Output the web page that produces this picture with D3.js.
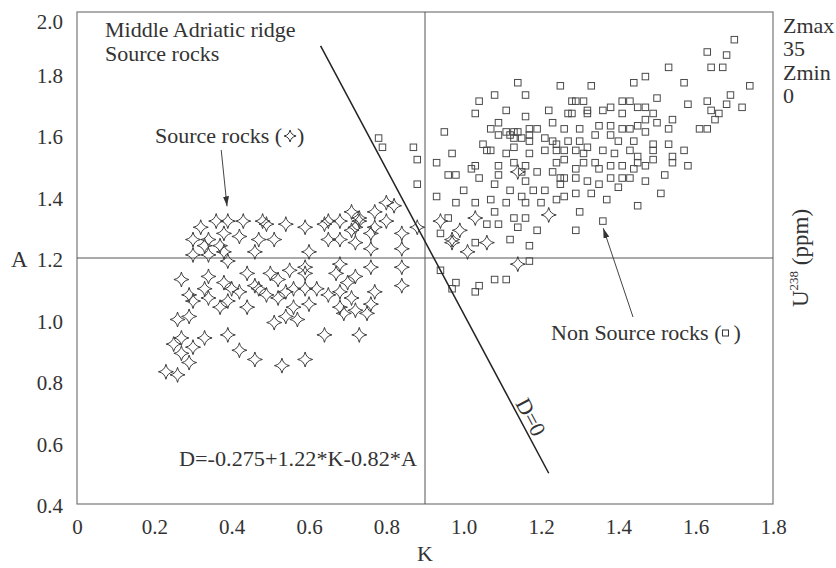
<!DOCTYPE html>
<html>
<head>
<meta charset="utf-8">
<script src="https://cdn.jsdelivr.net/npm/d3@7"></script>
<style>
  html, body { margin: 0; padding: 0; background: #fff; }
</style>
</head>
<body>
<svg id="chart" width="836" height="568"></svg>
<script>
// Axis ticks
const kTicks = [0, 0.2, 0.4, 0.6, 0.8, 1.0, 1.2, 1.4, 1.6, 1.8];
const aTicks = [0.4, 0.6, 0.8, 1.0, 1.2, 1.4, 1.6, 1.8, 2.0];

// Source rocks (star markers): K and A values
const srcK = [0.80,0.82,0.71,0.73,0.77,0.32,0.36,0.39,0.43,0.48,0.49,0.54,0.59,0.64,0.65,0.68,0.80,0.88,
  0.30,0.34,0.38,0.42,0.47,0.51,0.65,0.68,0.71,0.72,0.73,0.76,0.77,0.84,0.33,0.37,0.46,0.60,0.72,0.76,0.84,
  0.30,0.34,0.39,0.38,0.27,0.34,0.38,0.44,0.50,0.52,0.55,0.59,0.59,0.67,0.68,0.72,0.70,0.76,0.84,0.84,
  0.29,0.33,0.34,0.40,0.42,0.46,0.47,0.49,0.52,0.54,0.56,0.59,0.62,0.65,0.68,0.71,0.77,
  0.30,0.37,0.39,0.44,0.56,0.60,0.68,0.69,0.72,0.76,0.75,0.26,0.29,0.51,0.54,0.57,
  0.33,0.39,0.64,0.73,0.25,0.27,0.30,0.27,0.42,0.29,0.46,0.59,0.53,0.23,0.26,
  0.94,1.03,0.97,0.99,0.97,1.06,1.01,1.14,1.22,1.14];
const srcA = [1.38,1.37,1.35,1.33,1.35,1.30,1.32,1.32,1.32,1.32,1.31,1.31,1.30,1.31,1.32,1.32,1.32,1.30,
  1.26,1.26,1.28,1.27,1.26,1.26,1.26,1.26,1.29,1.30,1.32,1.28,1.30,1.28,1.24,1.24,1.22,1.22,1.25,1.23,1.23,
  1.21,1.21,1.19,1.22,1.13,1.14,1.12,1.15,1.15,1.13,1.16,1.17,1.15,1.15,1.18,1.14,1.12,1.17,1.17,1.11,
  1.08,1.10,1.07,1.10,1.09,1.11,1.10,1.08,1.07,1.09,1.10,1.10,1.10,1.08,1.09,1.07,1.09,
  1.06,1.04,1.06,1.04,1.04,1.05,1.04,1.02,1.03,1.05,1.02,1.00,1.01,0.99,1.01,1.00,
  0.94,0.95,0.95,0.95,0.92,0.94,0.91,0.89,0.90,0.86,0.87,0.87,0.85,0.83,0.82,
  1.32,1.33,1.26,1.29,1.25,1.25,1.22,1.18,1.34,1.48];

// Non source rocks (square markers): K and A values
const nonK = [1.14,1.25,1.33,1.44,1.57,1.74,
  1.08,1.16,1.04,1.28,1.29,1.31,1.41,1.43,1.45,1.47,1.50,1.58,1.63,1.68,1.69,1.72,
  1.03,1.11,1.16,1.22,1.27,1.28,1.32,1.32,1.36,1.38,1.41,1.49,1.64,1.66,
  0.95,1.07,1.09,1.11,1.13,1.14,1.17,1.19,1.23,1.26,1.30,1.35,1.38,1.41,1.43,1.45,1.47,1.50,1.54,1.53,1.65,1.61,1.63,
  1.05,1.09,1.12,1.13,1.17,1.15,1.17,1.21,1.23,1.24,1.27,1.30,1.34,1.38,1.40,1.44,1.47,1.49,1.53,1.57,
  0.87,0.97,1.06,1.07,1.11,1.13,1.17,1.21,1.24,1.26,1.29,1.31,1.32,1.36,1.39,1.43,1.45,1.49,1.54,
  0.88,0.93,1.02,1.03,1.09,1.13,1.16,1.19,1.24,1.26,1.29,1.31,1.34,1.35,1.38,1.41,1.45,1.44,1.47,1.49,1.54,1.58,
  0.96,0.98,1.04,1.09,1.15,1.16,1.23,1.25,1.29,1.26,1.32,1.38,1.41,1.43,1.47,1.52,
  0.88,1.00,1.08,1.12,1.18,1.21,1.25,1.29,1.33,1.35,1.40,
  0.93,0.98,1.03,1.07,1.11,1.15,1.16,1.20,1.24,1.26,1.37,1.51,1.45,
  0.96,1.06,1.08,1.13,1.16,1.30,1.36,
  0.94,1.09,1.14,1.19,1.29,
  1.03,1.12,1.17,1.17,
  0.94,1.08,1.11,0.98,1.04,0.97,1.03,
  1.70,1.63,1.68,1.64,1.67,1.53,1.47,
  0.78,0.79];
const nonA = [1.77,1.76,1.76,1.77,1.77,1.76,
  1.73,1.73,1.71,1.71,1.71,1.71,1.71,1.71,1.69,1.69,1.72,1.70,1.71,1.70,1.73,1.69,
  1.67,1.68,1.66,1.68,1.67,1.67,1.68,1.67,1.68,1.69,1.67,1.67,1.68,1.67,
  1.61,1.62,1.64,1.61,1.61,1.61,1.62,1.62,1.64,1.62,1.62,1.63,1.63,1.62,1.62,1.63,1.65,1.64,1.65,1.62,1.65,1.62,1.62,
  1.57,1.60,1.60,1.59,1.60,1.59,1.58,1.59,1.58,1.57,1.58,1.58,1.60,1.60,1.58,1.58,1.61,1.57,1.57,1.55,
  1.56,1.54,1.55,1.55,1.54,1.56,1.54,1.55,1.55,1.55,1.55,1.54,1.56,1.55,1.54,1.55,1.53,1.55,1.53,
  1.52,1.51,1.49,1.50,1.50,1.51,1.50,1.48,1.51,1.52,1.49,1.51,1.51,1.49,1.50,1.50,1.51,1.49,1.50,1.52,1.51,1.50,
  1.47,1.47,1.46,1.47,1.48,1.45,1.48,1.46,1.46,1.46,1.45,1.46,1.46,1.46,1.45,1.47,
  1.44,1.42,1.44,1.42,1.42,1.42,1.44,1.41,1.41,1.44,1.43,
  1.40,1.38,1.38,1.39,1.38,1.40,1.38,1.38,1.39,1.40,1.39,1.41,1.37,
  1.33,1.31,1.35,1.33,1.33,1.35,1.32,
  1.28,1.31,1.30,1.29,1.29,
  1.25,1.26,1.24,1.19,
  1.16,1.13,1.13,1.12,1.11,1.10,1.09,
  1.91,1.87,1.86,1.82,1.82,1.82,1.79,
  1.59,1.56];

// Reference lines and discriminant line D = 0
const splitK = 0.9;
const splitA = 1.2;
const dLineK = [0.63, 1.22];
const dLineA = [1.89, 0.50];

// Arrow annotations (tail K/A, head K/A)
const srcArrow = [0.373, 1.551, 0.388, 1.368];
const nonArrow = [1.438, 1.008, 1.361, 1.297];

const zLabels = ["Zmax", "35", "Zmin", "0"];

const FONT = '"Liberation Serif", "Times New Roman", serif';
const svg = d3.select("#chart");
const ink = "#333";
const x = d3.scaleLinear().domain([0, 1.8]).range([77, 773]);
const y = d3.scaleLinear().domain([0.4, 2.0]).range([504, 12]);

svg.append("defs").append("marker")
  .attr("id", "head").attr("viewBox", "0 0 10 6")
  .attr("refX", 10).attr("refY", 3)
  .attr("markerWidth", 10).attr("markerHeight", 6)
  .attr("markerUnits", "userSpaceOnUse").attr("orient", "auto")
  .append("path").attr("d", "M0,0L10,3L0,6Z").attr("fill", "#333");

// Frame
svg.append("rect")
  .attr("x", x(0)).attr("y", y(2.0))
  .attr("width", x(1.8) - x(0)).attr("height", y(0.4) - y(2.0))
  .attr("fill", "none").attr("stroke", "#777").attr("stroke-width", 1.2);

// Axes (labels only)
const xAxis = svg.append("g")
  .attr("transform", `translate(0,${y(0.4)})`)
  .call(d3.axisBottom(x).tickValues(kTicks).tickSize(0).tickPadding(15)
    .tickFormat(d => d === 0 ? "0" : d.toFixed(1)));
xAxis.select(".domain").remove();
xAxis.selectAll("text").attr("fill", ink).style("font-size", "21px");

const yAxis = svg.append("g")
  .attr("transform", `translate(${x(0)},0)`)
  .call(d3.axisLeft(y).tickValues(aTicks).tickSize(0).tickPadding(14)
    .tickFormat(d => d.toFixed(1)));
yAxis.select(".domain").remove();
yAxis.selectAll("text").attr("fill", ink).style("font-size", "21px")
  .attr("dy", d => d === 2.0 ? "0.8em" : "0.42em");

// Axis titles
svg.append("text").attr("x", x(splitK)).attr("y", 561)
  .attr("text-anchor", "middle").style("font-size", "22px").attr("fill", ink).text("K");
svg.append("text").attr("x", 11).attr("y", y(splitA) + 9)
  .style("font-size", "23px").attr("fill", ink).text("A");

const uLabel = svg.append("text")
  .attr("transform", `translate(808,${y(splitA)}) rotate(-90)`)
  .attr("text-anchor", "middle").style("font-size", "23px").attr("fill", ink);
uLabel.append("tspan").text("U");
uLabel.append("tspan").style("font-size", "13px").attr("dy", -10).text("238");
uLabel.append("tspan").attr("dy", 10).text(" (ppm)");

// Divider lines
svg.append("line")
  .attr("x1", x(0)).attr("x2", x(1.8)).attr("y1", y(splitA)).attr("y2", y(splitA))
  .attr("stroke", "#555").attr("stroke-width", 1);
svg.append("line")
  .attr("x1", x(splitK)).attr("x2", x(splitK)).attr("y1", y(2.0)).attr("y2", y(0.4))
  .attr("stroke", "#555").attr("stroke-width", 1);

// Markers
const starPath = r => {
  const c = r * 0.16;
  return `M0,${-r}Q${c},${-c} ${r},0Q${c},${c} 0,${r}Q${-c},${c} ${-r},0Q${-c},${-c} 0,${-r}Z`;
};

svg.append("g").selectAll("path")
  .data(srcK.map((k, i) => [k, srcA[i]]))
  .join("path")
  .attr("transform", d => `translate(${x(d[0])},${y(d[1])})`)
  .attr("d", starPath(7.5))
  .attr("fill", "none").attr("stroke", "#3c3c3c").attr("stroke-width", 1);

const sq = 6.5;
svg.append("g").selectAll("rect")
  .data(nonK.map((k, i) => [k, nonA[i]]))
  .join("rect")
  .attr("x", d => x(d[0]) - sq / 2).attr("y", d => y(d[1]) - sq / 2)
  .attr("width", sq).attr("height", sq)
  .attr("fill", "none").attr("stroke", "#4a4a4a").attr("stroke-width", 1);

// D = 0 line
svg.append("line")
  .attr("x1", x(dLineK[0])).attr("y1", y(dLineA[0]))
  .attr("x2", x(dLineK[1])).attr("y2", y(dLineA[1]))
  .attr("stroke", "#222").attr("stroke-width", 1.5);

const ang = Math.atan2(y(dLineA[1]) - y(dLineA[0]), x(dLineK[1]) - x(dLineK[0])) * 180 / Math.PI;
svg.append("text")
  .attr("transform", `translate(531,417) rotate(${ang})`)
  .attr("text-anchor", "middle").attr("dy", "0.35em")
  .style("font-size", "22px").attr("fill", ink).text("D=0");

// Arrows
[srcArrow, nonArrow].forEach(a => {
  svg.append("line")
    .attr("x1", x(a[0])).attr("y1", y(a[1]))
    .attr("x2", x(a[2])).attr("y2", y(a[3]))
    .attr("stroke", "#444").attr("stroke-width", 1)
    .attr("marker-end", "url(#head)");
});

// Text annotations
const label = (tx, ty, s) => svg.append("text")
  .attr("x", tx).attr("y", ty).style("font-size", "22px")
  .style("font-family", FONT).attr("fill", ink).text(s);

label(105, 37, "Middle Adriatic ridge");
label(105, 61, "Source rocks");

const srcLbl = label(155, 143, "Source rocks (");
const w1 = srcLbl.node().getComputedTextLength();
svg.append("path")
  .attr("transform", `translate(${155 + w1 + 8},136)`)
  .attr("d", starPath(6))
  .attr("fill", "none").attr("stroke", ink).attr("stroke-width", 1);
label(155 + w1 + 15, 143, ")");

const nonLbl = label(551, 340, "Non Source rocks ( ");
const w2 = nonLbl.node().getComputedTextLength();
svg.append("rect")
  .attr("x", 551 + w2 + 1).attr("y", 330).attr("width", 6).attr("height", 6)
  .attr("fill", "none").attr("stroke", ink).attr("stroke-width", 1);
label(551 + w2 + 12, 340, ")");

svg.append("text").attr("x", 179).attr("y", 466)
  .style("font-size", "22px").attr("fill", ink)
  .attr("textLength", 238).attr("lengthAdjust", "spacingAndGlyphs")
  .text("D=-0.275+1.22*K-0.82*A");

zLabels.forEach((s, i) => label(783, 33 + i * 23.3, s));

// Serif face on every label
svg.selectAll("text").style("font-family", FONT);
</script>
</body>
</html>
